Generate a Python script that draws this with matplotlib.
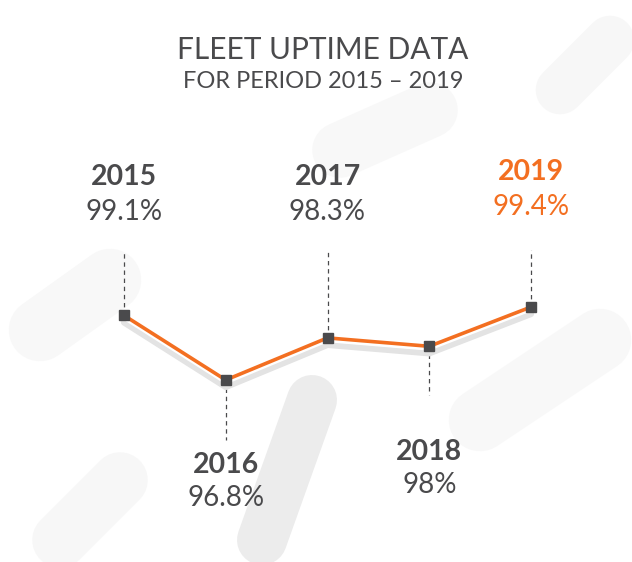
import matplotlib
matplotlib.use("Agg")
import matplotlib.pyplot as plt
import matplotlib.transforms as mtransforms

years = [2015, 2016, 2017, 2018, 2019]
uptime = [99.1, 96.8, 98.3, 98.0, 99.4]
labels = ["99.1%", "96.8%", "98.3%", "98%", "99.4%"]
label_above = [True, False, True, False, True]

TITLE = "FLEET UPTIME DATA"
SUBTITLE = "FOR PERIOD 2015 \u2013 2019"

W, H = 632, 562
DARK = "#4a4a4c"
ORANGE = "#f36f21"

fig = plt.figure(figsize=(W / 100, H / 100), dpi=100)
fig.patch.set_facecolor("white")

# decorative faint background
bg = fig.add_axes([0, 0, 1, 1])
bg.set_xlim(0, W)
bg.set_ylim(H, 0)
bg.axis("off")
bg.plot([312, 262], [400, 540], color="#ececec", lw=36, solid_capstyle="round")
bg.plot([40, 110], [330, 280], color="#f8f8f8", lw=45, solid_capstyle="round")
bg.plot([480, 600], [420, 340], color="#f8f8f8", lw=45, solid_capstyle="round")
bg.plot([340, 430], [150, 110], color="#f8f8f8", lw=40, solid_capstyle="round")
bg.plot([120, 60], [480, 540], color="#f7f7f7", lw=40, solid_capstyle="round")
bg.plot([560, 610], [90, 40], color="#f7f7f7", lw=35, solid_capstyle="round")

ax = fig.add_axes([0, 0, 1, 1])
ax.patch.set_alpha(0)
ax.axis("off")
# pixel mapping: 2015 -> 124px, 2019 -> 531px ; 96.8 -> 380px, 99.4 -> 307px (from top)
xs = 407 / 4
x0 = 2015 - 124 / xs
ax.set_xlim(x0, x0 + W / xs)
ys = 73 / 2.6
ytop = 99.4 + 307 / ys
ax.set_ylim(ytop - H / ys, ytop)

def py(p):
    return ytop - p / ys

shadow = mtransforms.offset_copy(ax.transData, fig=fig, x=0, y=-7, units="dots")
ax.plot(years, uptime, color="#e3e3e3", lw=4.5, transform=shadow, solid_capstyle="round", zorder=2)
ax.plot(years, uptime, color="white", lw=2, transform=mtransforms.offset_copy(ax.transData, fig=fig, x=0, y=-3, units="dots"), zorder=2.5)
ax.plot(years, uptime, color=ORANGE, lw=2.6, zorder=3)
ax.plot(years, uptime, ls="none", marker="s", ms=7.5, color=DARK, zorder=4)

for yr, v, lab, above in zip(years, uptime, labels, label_above):
    col = ORANGE if yr == years[-1] else DARK
    if above:
        top = 250 if yr == years[-1] else 252
        ax.plot([yr, yr], [v, py(top)], color=DARK, lw=0.9, ls=(0, (3.5, 3)), zorder=1)
        ty = 172 if yr == years[-1] else 177
        py2 = ty + 35
    else:
        bot = 440 if yr == 2016 else 395
        ax.plot([yr, yr], [v, py(bot)], color=DARK, lw=0.9, ls=(0, (3.5, 3)), zorder=1)
        ty = 465 if yr == 2016 else 452
        py2 = ty + 33
    ax.text(yr, py(ty), str(yr), ha="center", va="center", fontsize=20.5,
            fontweight="bold", color=col, family="Lato")
    ax.text(yr, py(py2), lab, ha="center", va="center", fontsize=20,
            fontweight="normal", color=col, family="Lato")

fig.text(323 / W, 1 - 50 / H, TITLE, ha="center", va="center", fontsize=21.5,
         color=DARK, family="Lato")
fig.text(323 / W, 1 - 81 / H, SUBTITLE, ha="center", va="center", fontsize=17,
         fontweight="normal", color=DARK, family="Lato")

fig.savefig("out.png", dpi=100, facecolor="white")
